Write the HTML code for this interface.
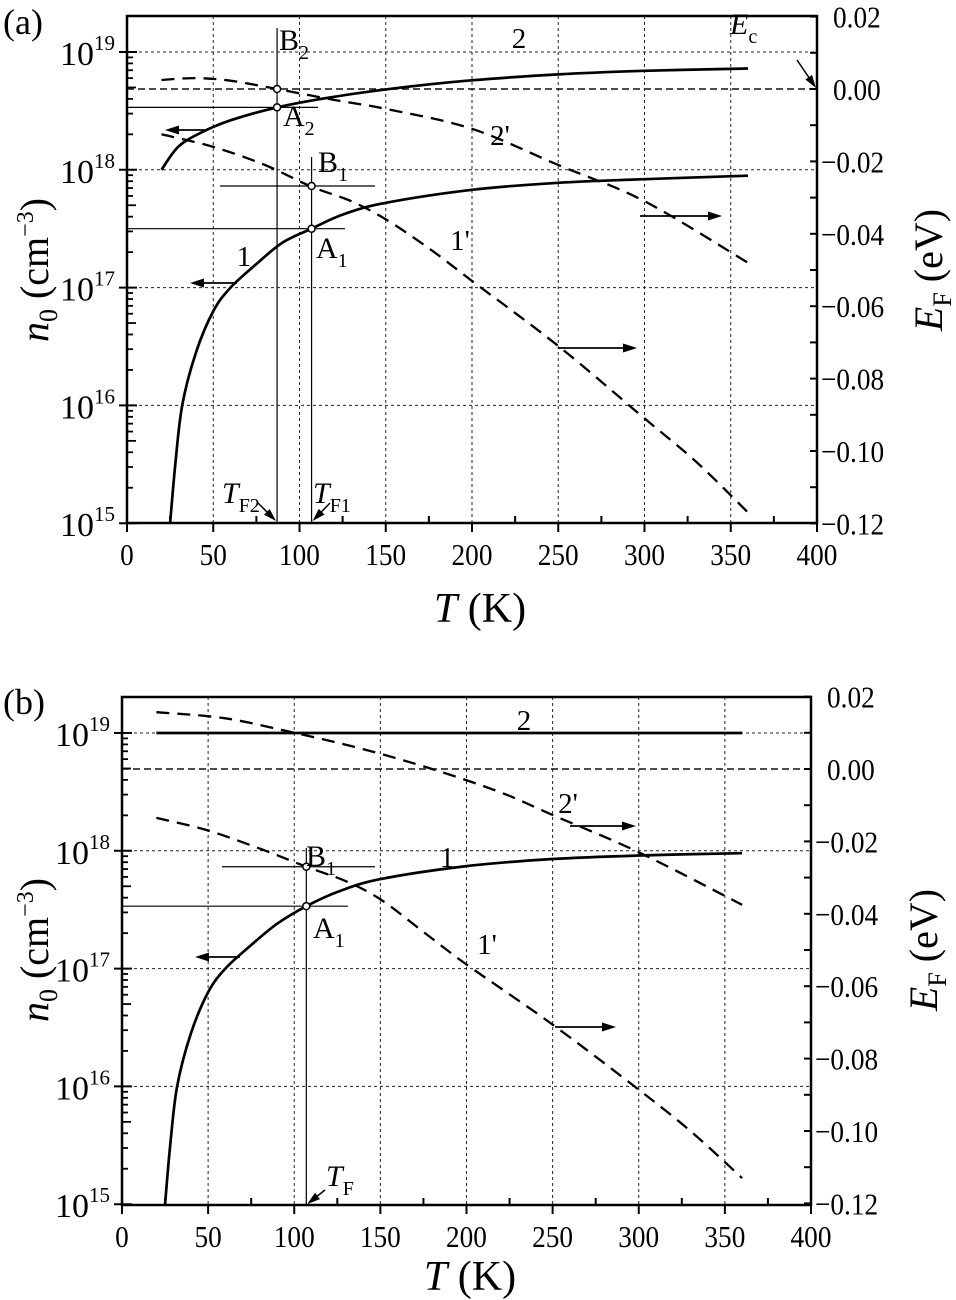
<!DOCTYPE html>
<html><head><meta charset="utf-8"><style>
body{margin:0;background:#fff}
svg{display:block;font-family:"Liberation Serif",serif}
</style></head><body>
<svg id="s" width="956" height="1300" viewBox="0 0 956 1300" xmlns="http://www.w3.org/2000/svg"></svg>
<script>
// ----- data -----
const a1T=[25,28,32,40,50,60,75,90,107,125,150,200,250,300,360];
const a1N=[15.0,15.5,16.0,16.45,16.8,17.0,17.2,17.38,17.5,17.62,17.72,17.83,17.89,17.92,17.95];
const a2T=[20,30,45,60,87,120,160,200,250,300,360];
const a2N=[18.0,18.2,18.33,18.42,18.53,18.62,18.7,18.76,18.81,18.84,18.86];
const a2pT=[20,40,60,87,120,150,200,250,300,360];
const a2pE=[0.0025,0.003,0.0023,0.0,-0.003,-0.0055,-0.011,-0.021,-0.031,-0.048];
const a1pT=[20,50,80,107,130,150,175,200,250,300,330,360];
const a1pE=[-0.0125,-0.016,-0.021,-0.027,-0.031,-0.036,-0.044,-0.053,-0.071,-0.091,-0.103,-0.117];
const b1T=[25,28,32,40,50,60,75,90,107,125,150,200,250,300,360];
const b1N=[15.0,15.5,16.0,16.45,16.8,17.0,17.2,17.38,17.53,17.65,17.76,17.87,17.93,17.96,17.98];
const b2T=[20,360];
const b2N=[19.0,19.0];
const b2pT=[20,60,100,140,180,220,250,300,360];
const b2pE=[0.0157,0.014,0.01,0.0055,0.0,-0.0065,-0.0127,-0.023,-0.0375];
const b1pT=[20,50,80,107,130,150,175,200,250,300,330,360];
const b1pE=[-0.0135,-0.017,-0.022,-0.027,-0.031,-0.036,-0.045,-0.054,-0.0706,-0.0886,-0.1,-0.113];
const xTicks=[0,50,100,150,200,250,300,350,400];
const yDecades=[15,16,17,18,19];
const eTicks=[0.02,0.00,-0.02,-0.04,-0.06,-0.08,-0.10,-0.12];

const svg=document.getElementById('s');
const NS='http://www.w3.org/2000/svg';
function el(tag,attrs,parent){const e=document.createElementNS(NS,tag);for(const k in attrs)e.setAttribute(k,attrs[k]);(parent||svg).appendChild(e);return e;}
function txt(x,y,s,size,parent,anchor,style){const t=el('text',{x:x,y:y,'font-size':size,'text-anchor':anchor||'start'},parent);if(style)t.setAttribute('font-style',style);t.textContent=s;return t;}
function smooth(pts){let d='M'+pts[0][0].toFixed(1)+','+pts[0][1].toFixed(1);
  for(let i=0;i<pts.length-1;i++){const p0=pts[Math.max(0,i-1)],p1=pts[i],p2=pts[i+1],p3=pts[Math.min(pts.length-1,i+2)];
    const c1=[p1[0]+(p2[0]-p0[0])/6,p1[1]+(p2[1]-p0[1])/6],c2=[p2[0]-(p3[0]-p1[0])/6,p2[1]-(p3[1]-p1[1])/6];
    d+='C'+c1[0].toFixed(1)+','+c1[1].toFixed(1)+' '+c2[0].toFixed(1)+','+c2[1].toFixed(1)+' '+p2[0].toFixed(1)+','+p2[1].toFixed(1);}
  return d;}

function panel(P){
  const g=el('g',{});
  
  
  const X=t=>P.x0+t*(P.x1-P.x0)/400;
  const YN=l=>P.top+(19-l)*P.dec+P.off;
  const YE=e=>P.e0-e/0.02*P.es;
  for(const t of xTicks.slice(1,8)){const l=el('line',{x1:X(t),x2:X(t),y1:P.top,y2:P.bot,stroke:'#222','stroke-width':1,'stroke-dasharray':'3,3'},g);}
  for(const d of yDecades.slice(1)){const l=el('line',{x1:P.x0,x2:P.x1,y1:YN(d),y2:YN(d),stroke:'#222','stroke-width':1,'stroke-dasharray':'3,3'},g);}
  const ec=el('line',{x1:P.x0,x2:P.x1,y1:YE(0),y2:YE(0),stroke:'#111','stroke-width':1.5,'stroke-dasharray':'7,4'},g);
  
  const fr=el('rect',{x:P.x0,y:P.top,width:P.x1-P.x0,height:P.bot-P.top,fill:'none',stroke:'#000','stroke-width':2.5},g);
  
  for(const t of xTicks){el('line',{x1:X(t),x2:X(t),y1:P.bot,y2:P.bot+9,stroke:'#000','stroke-width':2},g);
    const lb=el('text',{x:X(t),y:P.bot+42,'font-size':31,'text-anchor':'middle',transform:`translate(${X(t)},0) scale(0.88,1) translate(${-X(t)},0)`},g);lb.textContent=String(t);}
  for(let t=25;t<400;t+=50)el('line',{x1:X(t),x2:X(t),y1:P.bot,y2:P.bot-7,stroke:'#000','stroke-width':2},g);
  for(const d of yDecades){el('line',{x1:P.x0-8,x2:P.x0+10,y1:YN(d),y2:YN(d),stroke:'#000','stroke-width':2},g);
    const lb=el('text',{x:P.x0-12,y:YN(d)+13,'font-size':34,'text-anchor':'end'},g);
    lb.innerHTML='10<tspan dy="-15" font-size="21">'+d+'</tspan>';
    if(d<19)for(let m=2;m<=9;m++){const y=YN(d+Math.log10(m));el('line',{x1:P.x0,x2:P.x0+(m==5?9:6),y1:y,y2:y,stroke:'#000','stroke-width':1.8},g);}}
  for(const e of eTicks){el('line',{x1:P.x1,x2:P.x1-7,y1:YE(e),y2:YE(e),stroke:'#000','stroke-width':2},g);
    const s=(e<0?'\u2212':'')+Math.abs(e).toFixed(2);
    const xx=P.x1+(e<0?4:16);
    const lb=el('text',{x:xx,y:YE(e)+11,'font-size':31,transform:`translate(${xx},0) scale(0.88,1) translate(${-xx},0)`},g);lb.textContent=s;}
  for(let e=0.01;e>-0.12;e-=0.02)el('line',{x1:P.x1,x2:P.x1-7,y1:YE(e),y2:YE(e),stroke:'#000','stroke-width':2},g);
  function line(T,V,f,dash,name){const pts=T.map((t,i)=>[X(t),f(V[i])]);
    const p=el('path',{d:smooth(pts),fill:'none',stroke:'#000','stroke-width':dash?2.3:2.7,'stroke-linejoin':'round'},g);if(dash)p.setAttribute('stroke-dasharray','13,8');
    }
  line(P.s1T,P.s1N,YN,false,'curve-1');
  line(P.s2T,P.s2N,YN,false,'curve-2');
  line(P.s1pT,P.s1pE,YE,true,'curve-1-prime');
  line(P.s2pT,P.s2pE,YE,true,'curve-2-prime');
  return {g,X,YN,YE};
}
function thin(g,x1,y1,x2,y2,name){const l=el('line',{x1,y1,x2,y2,stroke:'#000','stroke-width':1.2},g);}
function circ(g,x,y,name){const c=el('circle',{cx:x,cy:y,r:3.5,fill:'#fff',stroke:'#000','stroke-width':1.5},g);}
function arrow(g,x1,y,x2,name){const d=x2>x1?-1:1;const a=el('g',{},g);
  el('line',{x1,y1:y,x2:x2+d*8,y2:y,stroke:'#000','stroke-width':1.8},a);
  el('path',{d:`M${x2},${y}L${x2+d*14},${y-4.5}L${x2+d*14},${y+4.5}Z`,fill:'#000'},a);}
function darrow(g,x1,y1,x2,y2,name){const a=el('g',{},g);
  const L=Math.hypot(x2-x1,y2-y1),ux=(x2-x1)/L,uy=(y2-y1)/L;
  el('line',{x1,y1,x2:x2-ux*8,y2:y2-uy*8,stroke:'#000','stroke-width':1.5},a);
  const bx=x2-ux*13,by=y2-uy*13;
  el('path',{d:`M${x2},${y2}L${bx-uy*4},${by+ux*4}L${bx+uy*4},${by-ux*4}Z`,fill:'#000'},a);}
function sub(g,x,y,main,s,name,ital){const t=el('text',{x,y,'font-size':30},g);if(ital)t.setAttribute('font-style','italic');
  t.innerHTML=main+'<tspan dy="9" font-size="20" font-style="normal">'+s+'</tspan>';}
function lab(g,x,y,s,name){const t=txt(x,y,s,29,g,'middle');}
function titles(g,xt,yx,yy,rx){
 const a=el('text',{x:xt[0],y:xt[1],'font-size':42,'text-anchor':'middle'},g);a.innerHTML='<tspan font-style="italic">T</tspan> (K)';
 const b=el('text',{transform:`translate(${yx},${yy}) rotate(-90)`,'font-size':40,'text-anchor':'middle'},g);b.innerHTML='<tspan font-style="italic">n</tspan><tspan font-size="26" dy="9">0</tspan><tspan dy="-9"> (cm</tspan><tspan font-size="24" dy="-15">−3</tspan><tspan dy="15">)</tspan>';
 const c=el('text',{transform:`translate(${rx},${yy}) rotate(-90)`,'font-size':40,'text-anchor':'middle'},g);c.innerHTML='<tspan font-style="italic">E</tspan><tspan font-size="26" dy="9">F</tspan><tspan dy="-9"> (eV)</tspan>';
}

// Panel (a)
const A=panel({name:'panel-a',x0:127,x1:817,top:16,bot:523,dec:117.8,off:36,e0:89,es:72.4,
  s1T:a1T,s1N:a1N,s2T:a2T,s2N:a2N,s1pT:a1pT,s1pE:a1pE,s2pT:a2pT,s2pE:a2pE});
{const g=A.g,X=A.X;
 thin(g,X(87),28,X(87),523,'tf2-line');thin(g,127,A.YN(18.53),318,A.YN(18.53),'a2-hline');
 thin(g,X(107),157,X(107),523,'tf1-line');thin(g,220,A.YE(-0.0268),375,A.YE(-0.0268),'b1-hline');thin(g,127,A.YN(17.5),345,A.YN(17.5),'a1-hline');
 circ(g,X(87),A.YE(0),'point-b2');circ(g,X(87),A.YN(18.53),'point-a2');circ(g,X(107),A.YE(-0.0268),'point-b1');circ(g,X(107),A.YN(17.5),'point-a1');
 arrow(g,207,130,165,'arrow-left-2');arrow(g,237,283,190,'arrow-left-1');arrow(g,640,216,722,'arrow-right-2p');arrow(g,558,348,637,'arrow-right-1p');
 sub(g,279,50,'B','2','label-b2');sub(g,283,126,'A','2','label-a2');sub(g,318,172,'B','1','label-b1');sub(g,316,258,'A','1','label-a1');
 lab(g,519,48,'2','label-2');lab(g,500,145,"2'",'label-2p');lab(g,244,266,'1','label-1');lab(g,460,250,"1'",'label-1p');
 sub(g,222,503,'T','F2','label-tf2',true);sub(g,313,503,'T','F1','label-tf1',true);sub(g,730,34,'E','c','label-ec',true);
 darrow(g,258,503,X(87)-1,521,'tf2-arrow');darrow(g,330,503,X(107)+1,521,'tf1-arrow');darrow(g,797,60,816,88,'ec-arrow');
 const ta=txt(3,34,'(a)',36,g);
 titles(g,[480,622],48,270,942);
}
// Panel (b)
const B=panel({name:'panel-b',x0:122,x1:811,top:697,bot:1205,dec:117.8,off:36,e0:769,es:72.4,
  s1T:b1T,s1N:b1N,s2T:b2T,s2N:b2N,s1pT:b1pT,s1pE:b1pE,s2pT:b2pT,s2pE:b2pE});
{const g=B.g,X=B.X;
 thin(g,X(107),848,X(107),1205,'tf-line');thin(g,222,B.YE(-0.027),375,B.YE(-0.027),'b1-hline');thin(g,122,B.YN(17.53),348,B.YN(17.53),'a1-hline');
 circ(g,X(107),B.YE(-0.027),'point-b1');circ(g,X(107),B.YN(17.53),'point-a1');
 arrow(g,240,957,195,'arrow-left-1');arrow(g,570,826,636,'arrow-right-2p');arrow(g,555,1027,616,'arrow-right-1p');
 sub(g,306,866,'B','1','label-b1');sub(g,313,938,'A','1','label-a1');
 lab(g,524,730,'2','label-2');lab(g,568,813,"2'",'label-2p');lab(g,447,867,'1','label-1');lab(g,487,954,"1'",'label-1p');
 sub(g,326,1186,'T','F','label-tf',true);darrow(g,325,1190,X(107)+1,1204,'tf-arrow');
 const tb=txt(3,714,'(b)',36,g);
 titles(g,[470,1290],48,950,937);
}
</script>
</body></html>
